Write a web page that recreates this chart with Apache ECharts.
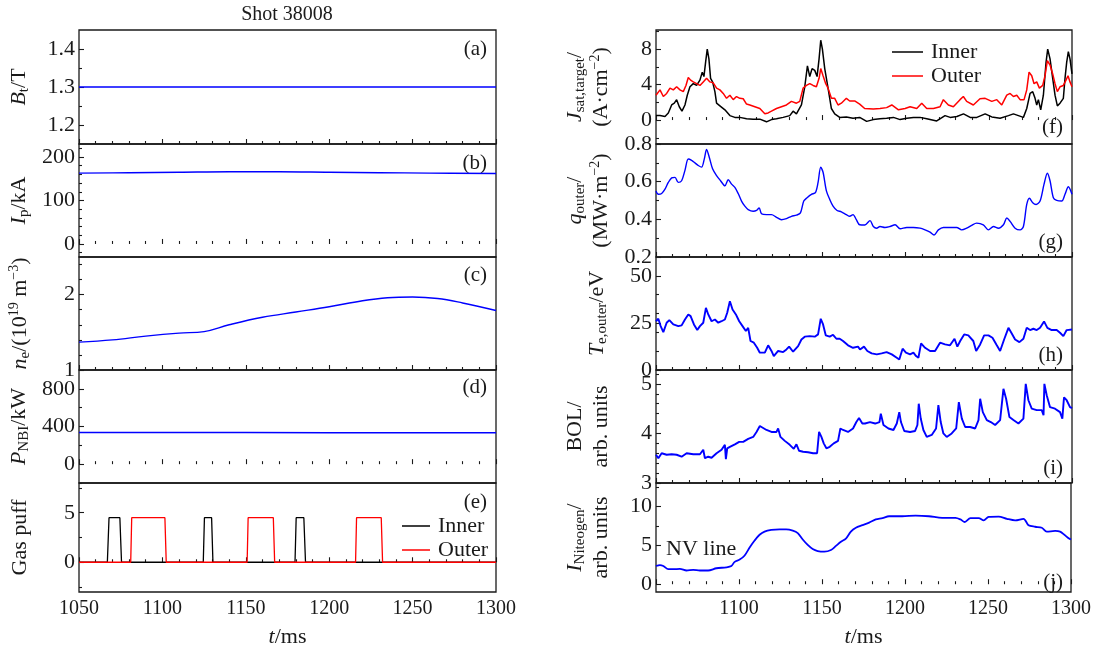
<!DOCTYPE html>
<html><head><meta charset="utf-8">
<script src="https://cdn.jsdelivr.net/npm/echarts@6/dist/echarts.min.js"></script>
<style>html,body{margin:0;padding:0;background:#fff}#c{width:1094px;height:649px}</style>
</head><body><div id="c"></div>
<script>
// ---------- data ----------
const btData = [[1050,1.3],[1150,1.3],[1300,1.3]];
const ipData = [[1050,163],[1080,164],[1110,165],[1140,166],[1170,166],[1200,165],[1230,164],[1260,163],[1300,162]];
const neData = [[1050,1.37],[1070,1.40],[1090,1.45],[1110,1.49],[1125,1.51],[1140,1.60],[1160,1.70],[1180,1.77],[1200,1.84],[1220,1.92],[1235,1.96],[1250,1.97],[1265,1.95],[1280,1.89],[1300,1.79]];
const nbiData = [[1050,337],[1150,336],[1200,334],[1300,334]];
const gasInner = [[1050,0],[1067,0],[1068,4.5],[1074.5,4.5],[1075.5,0],[1124.5,0],[1125.2,4.5],[1129.5,4.5],[1130.3,0],[1179.5,0],[1180.2,4.5],[1184.8,4.5],[1185.8,0],[1300,0]];
const gasOuter = [[1050,0],[1081,0],[1081.6,4.5],[1101.5,4.5],[1102.3,0],[1150.8,0],[1151.4,4.5],[1166.5,4.5],[1167.3,0],[1215.8,0],[1216.4,4.5],[1231.2,4.5],[1232,0],[1300,0]];

const jInner = [[1050,0.5],[1052.4,0.5],[1055.4,0.4],[1057.4,0.8],[1059.4,1.7],[1061,1.9],[1062.4,2.3],[1064,1.5],[1065.6,1.0],[1067.4,1.7],[1068.8,2.8],[1070.4,3.75],[1072.4,4.1],[1074.4,3.9],[1076.4,4.5],[1077.8,5.4],[1078.8,4.9],[1079.8,6.5],[1080.8,8.0],[1081.8,6.9],[1082.8,4.7],[1084,4.3],[1085.4,3.2],[1086.4,1.9],[1088.4,1.6],[1091.4,1.15],[1094.4,0.5],[1097.4,0.3],[1100.4,0.3],[1104.4,0.15],[1108.4,0.1],[1112.4,0.1],[1116.4,-0.2],[1119.4,0.05],[1122.4,0.15],[1126.4,0.3],[1130.4,0.5],[1132.4,1.0],[1134.4,0.7],[1137.4,1.7],[1139.4,3.75],[1141,6.1],[1142.4,4.9],[1143.8,5.8],[1145.4,5.6],[1146.8,4.9],[1148,6.9],[1149,9.0],[1150,8.0],[1151.4,5.8],[1153.4,3.6],[1155.4,1.3],[1157.4,0.7],[1160.4,0.3],[1164.4,0.35],[1168.4,0.2],[1172.4,0.3],[1176.6,-0.15],[1180.6,0.05],[1184.6,0.15],[1188.6,0.2],[1192.7,0.3],[1196.7,0.05],[1200.7,0.2],[1204.7,0.3],[1208.7,0.3],[1212.7,0.15],[1218.7,-0.1],[1223.7,0.5],[1226.8,0.3],[1230.8,0.4],[1234.8,0.7],[1238.8,0.3],[1242.8,0.3],[1247.8,0.7],[1251.8,0.35],[1256.8,0.2],[1261.8,0.5],[1264.8,0.7],[1267.8,0.5],[1270.8,0.3],[1272.8,1.3],[1274.8,3.0],[1276.4,3.2],[1277.8,2.45],[1278.8,1.7],[1279.8,2.3],[1281.2,1.15],[1282.8,2.8],[1284.4,6.5],[1285.4,8.0],[1286.8,6.9],[1288.4,4.7],[1289.8,2.8],[1291.2,1.6],[1292.8,1.9],[1294.8,2.45],[1295.8,4.7],[1296.8,6.5],[1297.8,7.7],[1298.8,6.9],[1300,5.2]];
const jOuter = [[1050,2.8],[1052.4,3.4],[1054.4,2.65],[1056.4,3.0],[1058.4,3.6],[1060.4,3.4],[1062.4,3.75],[1064.4,3.4],[1066.4,3.2],[1068,3.9],[1069.4,4.8],[1070.8,4.5],[1072.4,4.3],[1074.4,4.1],[1076.4,3.9],[1078.4,4.3],[1080.4,4.7],[1082.4,4.3],[1084.4,4.2],[1086.4,3.6],[1088.4,3.4],[1090.4,3.0],[1092.4,2.45],[1094.4,2.8],[1096.4,2.3],[1098.4,2.65],[1100.4,2.45],[1102.4,2.4],[1104.4,1.8],[1106.4,1.7],[1109.4,1.5],[1112.4,1.3],[1115.4,0.7],[1117.4,0.8],[1119.4,1.0],[1122.4,1.3],[1125.4,1.5],[1128.4,1.7],[1131.4,2.1],[1134.4,1.9],[1136.4,2.1],[1138.4,3.6],[1140.4,3.9],[1142.4,4.1],[1144.4,3.9],[1146.4,3.75],[1148,4.7],[1149,5.8],[1150.4,5.0],[1152,4.1],[1153.4,3.6],[1155.4,2.45],[1157.4,2.45],[1159.4,1.7],[1161.4,1.9],[1164.4,2.45],[1166.4,2.15],[1169.4,2.15],[1172.4,1.8],[1175.4,1.3],[1176.6,1.15],[1180.6,1.25],[1184.6,1.3],[1188.6,1.4],[1191.7,1.7],[1195.7,1.15],[1199.7,1.3],[1202.7,1.5],[1206.7,1.3],[1209.7,1.9],[1212.7,1.3],[1216.7,1.3],[1220.7,1.5],[1222.7,2.3],[1225.7,1.7],[1228.7,1.5],[1232.7,2.3],[1234.7,2.65],[1236.7,2.1],[1240.7,1.7],[1244.7,2.4],[1247.8,2.45],[1251.8,2.1],[1254.8,2.3],[1257.8,1.7],[1260.8,2.8],[1262.8,3.0],[1264.8,2.65],[1266.8,2.8],[1268.8,2.3],[1271.2,2.3],[1272.8,3.4],[1274.2,5.4],[1275.8,5.0],[1277.2,4.1],[1278.8,4.3],[1280.4,3.6],[1282.4,3.9],[1283.8,5.0],[1285.2,6.7],[1286.8,6.2],[1288.4,5.2],[1289.8,4.1],[1291.2,3.2],[1292.8,3.75],[1294.8,3.9],[1296.4,4.5],[1297.6,5.0],[1298.8,4.3],[1300,3.75]];
const qOuter = [[1050,0.551],[1051.4,0.533],[1053.4,0.537],[1055.4,0.56],[1057.4,0.596],[1059.4,0.62],[1061.4,0.623],[1063.4,0.596],[1065.4,0.605],[1067.4,0.66],[1069.4,0.72],[1071.4,0.713],[1073.4,0.70],[1075.4,0.686],[1077.4,0.677],[1079,0.72],[1080.4,0.771],[1082,0.73],[1084,0.668],[1086.4,0.632],[1088.8,0.605],[1091.4,0.578],[1093.4,0.61],[1095.4,0.587],[1097.4,0.57],[1099.4,0.537],[1101.4,0.497],[1103.4,0.47],[1105.4,0.452],[1108.4,0.443],[1110.4,0.447],[1112,0.461],[1113.4,0.43],[1116.4,0.425],[1119.4,0.425],[1122.4,0.411],[1125.4,0.398],[1128.4,0.404],[1131.4,0.416],[1134.4,0.422],[1136.8,0.434],[1138.8,0.497],[1140.8,0.515],[1143.4,0.533],[1145.8,0.542],[1147.4,0.596],[1149,0.677],[1150.4,0.65],[1152.4,0.551],[1154.4,0.506],[1156.4,0.47],[1158.8,0.447],[1161.4,0.44],[1164.4,0.425],[1166.4,0.416],[1168.4,0.425],[1170.4,0.398],[1172.4,0.371],[1175.5,0.37],[1178.6,0.393],[1180.6,0.362],[1182.6,0.353],[1184.6,0.362],[1187.6,0.357],[1190.6,0.362],[1193.7,0.371],[1196.7,0.35],[1200.7,0.357],[1204.7,0.357],[1208.7,0.353],[1211.7,0.344],[1214.7,0.332],[1217.1,0.317],[1219.7,0.344],[1222.7,0.357],[1226.7,0.357],[1230.7,0.357],[1233.7,0.344],[1236.7,0.353],[1239.7,0.368],[1242.7,0.38],[1246.7,0.371],[1249.8,0.344],[1252.8,0.362],[1255.8,0.353],[1258.8,0.371],[1260.8,0.407],[1262.8,0.389],[1265.8,0.353],[1268.8,0.344],[1270.8,0.362],[1272.8,0.479],[1274.4,0.512],[1276.4,0.488],[1278.4,0.479],[1280.8,0.497],[1283.2,0.587],[1285.2,0.645],[1286.8,0.605],[1288.8,0.515],[1290.8,0.501],[1293.8,0.497],[1295.8,0.533],[1297.8,0.573],[1300,0.533]];
const teOuter = [[1050,25.9],[1051.4,27.2],[1052.8,23.3],[1054.4,20.1],[1056.4,25.1],[1058,26.5],[1060.4,24.2],[1063.4,23.3],[1065.4,23.7],[1067.4,26.8],[1069.4,29.5],[1070.8,28.6],[1072.8,24.2],[1074.8,21.2],[1076.4,23.3],[1078.4,25.1],[1080,33],[1081.4,29.5],[1083.4,25.9],[1085.4,26.8],[1087.4,25.1],[1089.4,25.9],[1091.4,26.8],[1092.8,30.4],[1094.4,36.5],[1096,32.1],[1098,29.5],[1100,25.9],[1102,23.3],[1104,20.7],[1105.4,22.4],[1106.8,15.4],[1108.8,14.5],[1110.8,11.8],[1112.4,9.2],[1115.4,9.2],[1117.4,13.1],[1119.4,10.1],[1120.8,7.4],[1123.4,10.1],[1126.4,9.5],[1128.4,10.9],[1130,12.4],[1132.4,9.7],[1135.4,12.7],[1137.4,16.2],[1139.4,17.7],[1142.4,18],[1145.4,17.7],[1147.4,18.9],[1149,27.2],[1150.4,24.2],[1152,18.4],[1154.4,17.7],[1156.4,18.7],[1158.4,16.6],[1160.4,16.6],[1162.4,15.4],[1165.4,13.1],[1168.4,11.8],[1171.4,12.4],[1172.6,10.9],[1175,12.4],[1177,10.1],[1179.6,8.8],[1182.7,8.3],[1185.6,8.8],[1188.6,9.5],[1191.7,8.3],[1194.7,6.5],[1196.2,5.6],[1198.2,11.3],[1200.2,9.2],[1202.7,8.3],[1204.7,9.2],[1206.3,7.4],[1207.7,6.5],[1209.3,14.1],[1211.7,11.8],[1214.7,10.1],[1217.7,10.1],[1220.7,14.5],[1223.7,13.6],[1226.7,13.1],[1229.4,16.6],[1231.1,12.4],[1232.8,15.4],[1235.2,18.9],[1237.7,18.4],[1240.7,15.4],[1242.4,10.1],[1244.8,13.6],[1247.2,18.4],[1249.8,18.4],[1252.2,17.1],[1254.8,13.1],[1256.8,10.1],[1259.2,16.2],[1261.8,22.4],[1263.8,19.4],[1265.8,16.2],[1268.4,14.8],[1270.8,16.6],[1272.8,22.4],[1274.8,21.2],[1276.8,21.9],[1278.8,21.2],[1280.8,22.4],[1283.2,25.8],[1285.2,22.4],[1287.8,21.2],[1290.8,21.2],[1292.8,19.8],[1294.8,18],[1296.8,21.2],[1300,21.5]];
const bolData = [[1050,3.57],[1051.4,3.5],[1053.4,3.6],[1056.4,3.57],[1059.4,3.58],[1062.4,3.57],[1065.4,3.53],[1068.4,3.6],[1072.4,3.58],[1076.4,3.58],[1078.4,3.67],[1079.4,3.5],[1081.4,3.53],[1083.4,3.51],[1086.4,3.6],[1089.4,3.67],[1091.4,3.77],[1092,3.48],[1092.8,3.7],[1094.4,3.73],[1097.4,3.78],[1100,3.83],[1102.4,3.83],[1105.4,3.89],[1108.4,3.93],[1110.4,4.03],[1112.4,4.15],[1114.4,4.11],[1116.4,4.07],[1119.4,4.03],[1122.4,4.03],[1123.4,4.1],[1124.8,3.93],[1127.4,3.85],[1130.4,3.77],[1132.8,3.69],[1134.4,3.78],[1136,3.65],[1138.4,3.63],[1141.4,3.62],[1144.4,3.6],[1146.8,3.6],[1148,4.03],[1149.4,3.93],[1150.8,3.8],[1152.4,3.7],[1154.4,3.73],[1156.8,3.8],[1159.4,3.85],[1160.8,4.1],[1162.4,4.07],[1165.4,4.03],[1168.4,4.1],[1170.4,4.23],[1172,4.31],[1174,4.2],[1175.6,4.2],[1178.6,4.23],[1181.7,4.2],[1184.3,4.23],[1185.1,4.4],[1186.7,4.17],[1189.7,4.1],[1192.7,4.07],[1194.7,4.2],[1196.2,4.43],[1197.2,4.23],[1199.2,4.05],[1202.7,4.03],[1205.7,4.05],[1207.1,4.17],[1207.9,4.6],[1209.1,4.3],[1210.7,4.07],[1212.7,3.93],[1215.7,3.97],[1218.3,4.1],[1219.7,4.57],[1221.1,4.23],[1222.7,4.0],[1224.7,3.93],[1227.7,4.0],[1230.4,4.1],[1232,4.63],[1233.8,4.3],[1235.8,4.13],[1238.8,4.13],[1241.8,4.1],[1243.8,4.27],[1244.8,4.7],[1246.4,4.43],[1248.8,4.27],[1251.2,4.23],[1253.8,4.17],[1256.8,4.27],[1258.8,4.9],[1260.4,4.7],[1262.4,4.33],[1264.8,4.27],[1267.8,4.2],[1270.8,4.3],[1272.2,5.0],[1273.8,4.67],[1275.8,4.5],[1278.8,4.47],[1281.8,4.47],[1282.9,4.37],[1283.4,5.0],[1284.8,4.77],[1286.8,4.53],[1289.8,4.5],[1292.8,4.43],[1294.2,4.3],[1295.2,4.73],[1296.8,4.67],[1298.8,4.53],[1300,4.51]];
const nvData = [[1050,2.34],[1052.4,2.46],[1054.4,2.34],[1057.4,1.93],[1060.4,1.93],[1064.4,1.97],[1068.4,1.76],[1072.4,1.84],[1076.4,1.76],[1081.4,1.76],[1086.4,2.05],[1092.4,2.17],[1095.4,2.34],[1097.4,2.87],[1100.4,3.16],[1103.4,3.69],[1106.4,4.71],[1109.4,5.61],[1112.4,6.35],[1115.4,6.76],[1119.4,6.97],[1124.4,7.05],[1128.4,7.05],[1132.4,6.89],[1135.4,6.56],[1138.4,5.74],[1141.4,5.04],[1144.4,4.51],[1147.4,4.26],[1151.4,4.18],[1155.4,4.39],[1158.4,4.92],[1161.4,5.45],[1164.4,5.86],[1167.4,6.76],[1170.4,7.25],[1174.4,7.58],[1178.4,7.91],[1182.4,8.32],[1186.4,8.48],[1190.4,8.73],[1198.4,8.73],[1206.4,8.81],[1214.4,8.73],[1222.4,8.52],[1230.4,8.52],[1233.4,8.32],[1236,7.99],[1239.4,8.48],[1244.4,8.48],[1247.4,8.2],[1250.4,8.65],[1256.4,8.69],[1261.4,8.4],[1266.4,8.2],[1271.4,8.4],[1274.4,7.58],[1278.4,7.38],[1282.4,7.25],[1285.4,6.76],[1290.4,6.84],[1293.4,6.76],[1296,6.35],[1298.8,5.86],[1300,5.74]];

// tick values
const ticksA = [1.2,1.3,1.4], minorA = [1.25,1.35];
const ticksB = [0,100,200], minorB = [-20,20,40,60,80,120,140,160,180,220];
const ticksC = [1,2], minorC = [1.2,1.4,1.6,1.8,2.2,2.4];
const ticksD = [0,400,800], minorD = [-200,200,600];
const ticksE = [0,5], minorE = [-2.5,2.5,7.5];
const ticksF = [0,4,8], minorF = [-2,2,6,10];
const ticksG = [0.2,0.4,0.6,0.8], minorG = [0.3,0.5,0.7];
const ticksH = [0,25,50], minorH = [10,20,30,40];
const ticksI = [3,4,5], minorI = [3.2,3.4,3.6,3.8,4.2,4.4,4.6,4.8,5.2];
const ticksJ = [0,5,10], minorJ = [2.5,7.5,12.5];
const xTickStep = 50;

// ---------- layout ----------
const F = '"Liberation Serif","Times New Roman",serif';
const INK = '#1a1a1a';
const rich = {
  n:{fontFamily:F,fontSize:22,color:INK,lineHeight:26},
  i:{fontFamily:F,fontSize:22,fontStyle:'italic',color:INK,lineHeight:26},
  s:{fontFamily:F,fontSize:15,color:INK,lineHeight:15,verticalAlign:'bottom'},
  p:{fontFamily:F,fontSize:14,color:INK,lineHeight:15,verticalAlign:'top'}
};
const LEFT=[79,656], WIDTH=[417,416];
const TOPS=[30,144,257,370,483], HEIGHTS=[114,113,113,113,114];

const panels = [
 {c:0,r:0,min:1.15,max:1.45,t:ticksA,m:minorA,name:'{i|B}{s|t}{n|/T}',gap:47,tag:'(a)',tagY:49},
 {c:0,r:1,min:-30,max:230,t:ticksB,m:minorB,name:'{i|I}{s|p}{n|/kA}',gap:47,tag:'(b)',tagY:163},
 {c:0,r:2,min:1,max:2.5,t:ticksC,m:minorC,name:'{i|n}{s|e}{n|/(10}{p|19}{n| m}{p|−3}{n|)}',gap:46,tag:'(c)',tagY:275},
 {c:0,r:3,min:-200,max:1000,t:ticksD,m:minorD,name:'{i|P}{s|NBI}{n|/kW}',gap:47,tag:'(d)',tagY:387},
 {c:0,r:4,min:-3,max:8,t:ticksE,m:minorE,name:'{n|Gas puff}',gap:46,tag:'(e)',tagY:502},
 {c:1,r:0,min:-2.7,max:10.15,t:ticksF,m:minorF,name:'{i|J}{s|sat,target}{n|/}\n{n|(A·cm}{p|−2}{n|)}',gap:42,tag:'(f)',tagY:127},
 {c:1,r:1,min:0.2,max:0.8,t:ticksG,m:minorG,name:'{i|q}{s|outer}{n|/}\n{n|(MW·m}{p|−2}{n|)}',gap:42,tag:'(g)',tagY:242},
 {c:1,r:2,min:0,max:60,t:ticksH,m:minorH,name:'{i|T}{s|e,outer}{n|/eV}',gap:46,tag:'(h)',tagY:355},
 {c:1,r:3,min:3,max:5.28,t:ticksI,m:minorI,name:'{n|BOL/}\n{n|arb. units}',gap:42,tag:'(i)',tagY:468},
 {c:1,r:4,min:-1,max:13,t:ticksJ,m:minorJ,name:'{i|I}{s|Niteogen}{n|/}\n{n|arb. units}',gap:42,tag:'(j)',tagY:582}
];

const grid=[], xAxis=[], yAxis=[], graphic=[];
const tickLine = {color:INK,width:1.1};
panels.forEach((p,k)=>{
  grid.push({left:LEFT[p.c],top:TOPS[p.r],width:WIDTH[p.c],height:HEIGHTS[p.r],show:true,borderColor:INK,borderWidth:1.3,backgroundColor:'transparent'});
  const bottom = p.r===4;
  xAxis.push({type:'value',gridIndex:k,min:1050,max:1300,interval:xTickStep,
    axisLine:{show:false},axisTick:{inside:true,length:5,lineStyle:tickLine},
    minorTick:{show:true,splitNumber:5,length:3,lineStyle:tickLine},
    splitLine:{show:false},minorSplitLine:{show:false},
    axisLabel:{show:bottom,margin:7,fontFamily:F,fontSize:20,color:INK,showMinLabel:p.c===0,formatter:v=>String(v)},
    name:bottom?'{i|t}{n|/ms}':'',nameLocation:'middle',nameGap:32,
    nameTextStyle:{fontFamily:F,fontSize:22,color:INK,rich}});
  yAxis.push({type:'value',gridIndex:k,min:p.min,max:p.max,position:'left',
    axisLine:{show:false},axisTick:{inside:true,length:5,customValues:p.t,lineStyle:tickLine},
    axisLabel:{customValues:p.t,margin:4,fontFamily:F,fontSize:22,color:INK,formatter:v=>String(v)},
    splitLine:{show:false},
    name:p.name,nameLocation:'middle',nameRotate:90,nameGap:p.gap,
    nameTextStyle:{fontFamily:F,fontSize:22,color:INK,rich}});
  yAxis.push({type:'value',gridIndex:k,min:p.min,max:p.max,position:'left',
    axisLine:{show:false},axisTick:{inside:true,length:3,customValues:p.m,lineStyle:tickLine},
    axisLabel:{show:false},splitLine:{show:false}});
  graphic.push({type:'text',x:LEFT[p.c]+WIDTH[p.c]-9,y:p.tagY,silent:true,
    style:{text:p.tag,font:'21px '+F,fill:INK,align:'right',verticalAlign:'middle'}});
});
graphic.push({type:'text',x:287,y:15,silent:true,style:{text:'Shot 38008',font:'20px '+F,fill:INK,align:'center',verticalAlign:'middle'}});
graphic.push({type:'text',x:666,y:549,silent:true,style:{text:'NV line',font:'22px '+F,fill:INK,align:'left',verticalAlign:'middle'}});

function line(k,name,data,color,width,smooth){
  return {type:'line',name,xAxisIndex:k,yAxisIndex:2*k,data,symbol:'none',showSymbol:false,
    smooth:smooth||false,lineStyle:{color,width},itemStyle:{color},silent:true,animation:false};
}
const BLUE='#0000ff', RED='#ff0000', BLACK='#000000';
const series = [
  line(0,'Bt',btData,BLUE,1.4),
  line(1,'Ip',ipData,BLUE,1.4,0.4),
  line(2,'ne',neData,BLUE,1.4,0.4),
  line(3,'PNBI',nbiData,BLUE,1.4),
  line(4,'Inner',gasInner,BLACK,1.3),
  line(4,'Outer',gasOuter,RED,1.3),
  line(5,'Inner',jInner,BLACK,1.5),
  line(5,'Outer',jOuter,RED,1.5),
  line(6,'q',qOuter,BLUE,1.4,0.3),
  line(7,'Te',teOuter,BLUE,1.9),
  line(8,'BOL',bolData,BLUE,1.9),
  line(9,'NV',nvData,BLUE,1.8,0.3)
];
const legendText = {fontFamily:F,fontSize:22,color:INK,padding:[0,0,0,3]};
const option = {
  animation:false,
  backgroundColor:'#ffffff',
  grid, xAxis, yAxis, series, graphic,
  legend:[
    {orient:'vertical',left:397,top:510,icon:'rect',itemWidth:28,itemHeight:1.5,itemGap:2,selectedMode:false,textStyle:legendText,data:['Inner','Outer']},
    {orient:'vertical',left:887,top:36,icon:'rect',itemWidth:31,itemHeight:1.5,itemGap:2,selectedMode:false,textStyle:legendText,data:['Inner','Outer']}
  ]
};
const chart = echarts.init(document.getElementById('c'),null,{renderer:'canvas'});
chart.setOption(option);
</script></body></html>
